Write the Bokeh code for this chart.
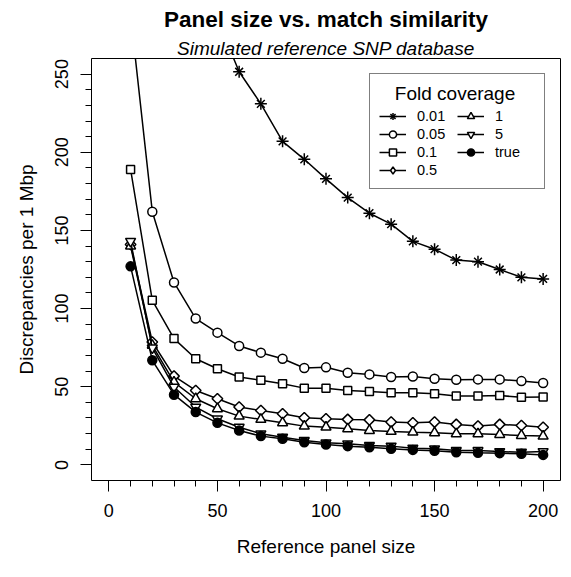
from bokeh.plotting import figure
from bokeh.models import Range1d, SingleIntervalTicker, Legend, LegendItem, Title
from bokeh.embed import file_html
from bokeh.resources import INLINE
import numpy as np

# ---- data ----
panel_size = [10, 20, 30, 40, 50, 60, 70, 80, 90, 100,
              110, 120, 130, 140, 150, 160, 170, 180, 190, 200]
cov_001 = [1150, 640, 430, 340, 285, 251.5, 231, 207, 195.5, 183,
           171, 161, 154, 143, 138, 131, 130, 125, 120, 119]
cov_005 = [288, 162, 116.7, 93.6, 84.6, 76.1, 71.8, 67.9, 62.0, 62.4,
           59.0, 57.9, 56.2, 56.6, 55.1, 54.5, 54.7, 54.7, 53.6, 52.4]
cov_01 = [189, 105.3, 80.8, 67.9, 61.5, 56.2, 54.1, 51.9, 49.1, 49.1,
          47.6, 47.0, 46.2, 46.2, 45.5, 44.0, 44.0, 44.4, 43.2, 43.4]
cov_05 = [141, 78.6, 56.8, 47.6, 42.3, 37.0, 34.8, 32.7, 30.1, 29.5,
          29.1, 28.8, 27.4, 26.9, 27.4, 25.9, 24.8, 25.9, 25.2, 24.1]
cov_1 = [140, 76.5, 53.0, 42.3, 35.9, 31.2, 29.1, 26.9, 24.8, 24.1,
         23.1, 22.0, 21.4, 20.9, 20.5, 19.9, 19.9, 19.4, 18.8, 18.4]
cov_5 = [143, 74.8, 49.8, 37.0, 29.5, 24.1, 19.9, 17.7, 15.6, 14.1,
         13.5, 12.4, 12.0, 10.7, 10.3, 9.2, 9.2, 8.5, 8.1, 8.5]
cov_true = [127, 66.9, 44.9, 33.8, 26.9, 22.0, 18.4, 16.7, 14.5, 13.0,
            12.0, 11.3, 10.3, 9.6, 9.0, 8.1, 7.7, 7.5, 7.1, 6.4]

labels = ["0.01", "0.05", "0.1", "0.5", "1", "5", "true"]
series = [cov_001, cov_005, cov_01, cov_05, cov_1, cov_5, cov_true]

FONT = "Liberation Sans"

p = figure(width=561, height=561, output_backend="svg", toolbar_location=None,
           x_range=Range1d(-8, 208), y_range=Range1d(-9.99, 259.99),
           title="Panel size vs. match similarity",
           min_border_left=91, min_border_right=1,
           min_border_top=58, min_border_bottom=81)

p.title.text_font = FONT
p.title.text_font_size = "22.5px"
p.title.text_font_style = "bold"
p.title.text_color = "black"
p.title.align = "center"
p.title.standoff = 7

sub = Title(text="Simulated reference SNP database", text_font=FONT,
            text_font_size="19px", text_font_style="italic", align="center",
            standoff=0, text_color="black")
p.add_layout(sub, "above")

p.background_fill_color = "white"
p.border_fill_color = "white"
p.outline_line_color = "black"
p.outline_line_width = 1
p.grid.visible = False

p.xaxis.ticker = SingleIntervalTicker(interval=50, num_minor_ticks=5)
p.yaxis.ticker = SingleIntervalTicker(interval=50, num_minor_ticks=5)
for ax in (p.xaxis[0], p.yaxis[0]):
    ax.axis_line_color = None
    ax.major_tick_in = 0
    ax.major_tick_out = 11
    ax.minor_tick_in = 0
    ax.minor_tick_out = 6
    ax.major_tick_line_color = "black"
    ax.minor_tick_line_color = "black"
    ax.major_label_text_font = FONT
    ax.major_label_text_font_size = "18px"
    ax.major_label_text_color = "black"
    ax.axis_label_text_font = FONT
    ax.axis_label_text_font_size = "19px"
    ax.axis_label_text_font_style = "normal"
    ax.axis_label_text_color = "black"

p.xaxis.axis_label = "Reference panel size"
p.yaxis.axis_label = "Discrepancies per 1 Mbp"
p.xaxis.major_label_standoff = 12
p.yaxis.major_label_standoff = 12
p.yaxis.major_label_orientation = "vertical"
p.xaxis.axis_label_standoff = 16
p.yaxis.axis_label_standoff = 16

LW = 1.5
items = []
for lab, ys in zip(labels, series):
    line = p.line(panel_size, ys, line_color="black", line_width=LW)
    rends = [line]
    if lab == "0.01":
        rends.append(p.scatter(panel_size, ys, marker="cross", size=12,
                               line_color="black", line_width=1.5))
        rends.append(p.scatter(panel_size, ys, marker="x", size=11,
                               line_color="black", line_width=1.5))
    elif lab == "0.05":
        rends.append(p.scatter(panel_size, ys, marker="circle", size=9,
                               line_color="black", fill_color="white", line_width=LW))
    elif lab == "0.1":
        rends.append(p.scatter(panel_size, ys, marker="square", size=8,
                               line_color="black", fill_color="white", line_width=LW))
    elif lab == "0.5":
        # legend glyph (size 0 in the plot, covered by the rotated squares below)
        rends.append(p.scatter(panel_size, ys, marker="diamond", size=0,
                               line_color="black", fill_color="white", line_width=LW))
        p.scatter(panel_size, ys, marker="square", size=7.5, angle=np.pi / 4,
                  line_color="black", fill_color="white", line_width=LW)
    elif lab == "1":
        rends.append(p.scatter(panel_size, ys, marker="triangle", size=10,
                               line_color="black", fill_color="white", line_width=LW))
    elif lab == "5":
        rends.append(p.scatter(panel_size, ys, marker="inverted_triangle", size=10,
                               line_color="black", fill_color="white", line_width=LW))
    else:
        rends.append(p.scatter(panel_size, ys, marker="circle", size=9,
                               line_color="black", fill_color="black", line_width=LW))
    items.append(LegendItem(label=lab, renderers=rends))

legend = Legend(items=items, location="top_right", orientation="vertical", nrows=4,
                title="\u00a0\u00a0\u00a0Fold coverage",
                title_text_font=FONT, title_text_font_size="19px",
                title_text_font_style="normal", title_text_color="black",
                title_standoff=2,
                label_text_font=FONT, label_text_font_size="14.5px",
                label_text_color="black",
                glyph_width=27, glyph_height=18, label_height=16,
                label_standoff=11, label_width=40, spacing=0,
                padding=9, margin=15,
                border_line_color="black", border_line_width=1,
                background_fill_color="white", background_fill_alpha=1)
p.add_layout(legend)

open("out.html", "w").write(file_html(p, INLINE))
